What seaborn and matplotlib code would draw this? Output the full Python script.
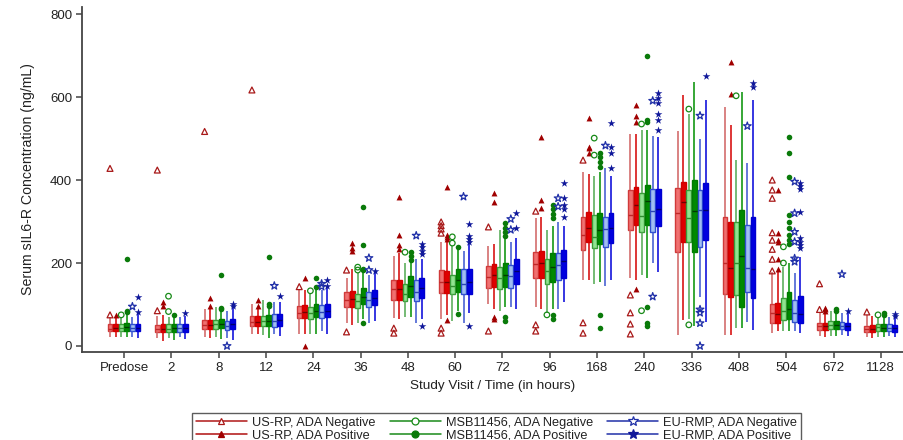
import numpy as np
import pandas as pd
import matplotlib
matplotlib.use("Agg")
import matplotlib.pyplot as plt
from matplotlib.lines import Line2D
import seaborn as sns

# Study visits (hours after dose)
TIMES = ["Predose", "2", "8", "12", "24", "36", "48", "60", "72", "96",
         "168", "240", "336", "408", "504", "672", "1128"]

SERIES = ["US-RP, ADA Negative", "US-RP, ADA Positive",
          "MSB11456, ADA Negative", "MSB11456, ADA Positive",
          "EU-RMP, ADA Negative", "EU-RMP, ADA Positive"]

# Five-number summaries per visit: (whisker low, Q1, median, Q3, whisker high), ng/mL
usrp_neg_box = [(22, 35, 42, 52, 70), (20, 33, 41, 51, 72), (22, 40, 50, 62, 88),
                (28, 47, 58, 72, 100), (30, 67, 80, 97, 135), (55, 93, 112, 130, 165),
                (68, 111, 137, 159, 218), (65, 128, 155, 183, 250), (100, 140, 167, 193, 240),
                (95, 163, 198, 227, 308), (160, 231, 267, 312, 420), (165, 279, 316, 376, 510),
                (27, 227, 320, 381, 519), (27, 125, 200, 310, 577), (32, 55, 79, 101, 179),
                (25, 38, 47, 55, 80), (22, 33, 41, 48, 75)]
usrp_pos_box = [(22, 35, 43, 52, 68), (12, 33, 42, 52, 75), (20, 40, 51, 63, 90),
                (28, 47, 59, 73, 95), (30, 68, 82, 98, 135), (50, 95, 113, 132, 185),
                (65, 112, 138, 160, 225), (75, 128, 155, 180, 250), (90, 142, 170, 197, 245),
                (88, 165, 200, 228, 310), (160, 251, 285, 324, 415), (160, 292, 340, 383, 510),
                (63, 251, 348, 396, 605), (27, 118, 188, 300, 532), (35, 55, 78, 103, 180),
                (22, 38, 47, 56, 80), (20, 33, 42, 50, 72)]
msb_neg_box = [(22, 36, 44, 53, 68), (20, 34, 42, 52, 70), (22, 42, 52, 63, 95),
               (27, 48, 60, 73, 110), (30, 66, 80, 95, 125), (55, 92, 108, 125, 175),
               (70, 108, 125, 150, 200), (60, 125, 145, 170, 240), (85, 138, 165, 190, 280),
               (80, 150, 180, 210, 280), (150, 235, 262, 316, 410), (170, 275, 313, 369, 520),
               (65, 251, 308, 376, 560), (43, 123, 201, 300, 448), (35, 62, 85, 115, 190),
               (25, 40, 50, 60, 85), (22, 36, 45, 52, 70)]
msb_pos_box = [(22, 37, 45, 56, 78), (15, 34, 43, 54, 72), (18, 43, 53, 65, 85),
               (20, 48, 60, 75, 95), (28, 70, 85, 102, 138), (65, 100, 118, 140, 178),
               (70, 118, 145, 168, 205), (85, 130, 160, 185, 235), (95, 142, 172, 200, 260),
               (90, 155, 190, 225, 290), (155, 247, 280, 320, 420), (165, 292, 350, 388, 520),
               (47, 227, 325, 400, 637), (43, 95, 217, 328, 613), (35, 65, 90, 130, 200),
               (25, 40, 50, 60, 82), (22, 35, 44, 53, 70)]
eu_neg_box = [(22, 35, 43, 52, 70), (22, 34, 43, 53, 70), (20, 38, 48, 60, 85),
              (30, 45, 60, 77, 105), (35, 67, 82, 98, 135), (55, 95, 112, 130, 170),
              (55, 108, 130, 158, 210), (55, 125, 150, 185, 230), (95, 140, 168, 195, 250),
              (90, 158, 195, 225, 300), (145, 239, 282, 312, 430), (200, 275, 326, 378, 505),
              (119, 239, 328, 376, 500), (59, 131, 189, 292, 441), (35, 58, 80, 110, 175),
              (27, 40, 48, 57, 80), (25, 37, 44, 52, 70)]
eu_pos_box = [(20, 35, 44, 53, 78), (18, 33, 43, 54, 72), (15, 40, 52, 64, 95),
              (25, 47, 62, 78, 105), (30, 70, 84, 100, 140), (60, 98, 116, 135, 175),
              (65, 115, 140, 165, 210), (80, 125, 155, 185, 245), (90, 150, 180, 210, 260),
              (105, 165, 205, 232, 290), (160, 248, 285, 320, 410), (179, 289, 330, 378, 504),
              (59, 255, 328, 392, 593), (38, 115, 186, 312, 593), (32, 55, 78, 120, 215),
              (25, 38, 47, 56, 80), (22, 34, 43, 51, 70)]

# Outlying observations per visit, ng/mL
usrp_neg_out = [[428, 75], [424, 85], [517], [617], [143], [183, 34], [43, 31],
                [299, 290, 282, 272, 43, 31], [287, 36], [325, 51, 36], [448, 56, 31],
                [123, 80, 53, 29], [], [], [400, 376, 356, 273, 255, 233, 209, 181],
                [150, 88], [82]]
usrp_pos_out = [[75], [107, 97], [115, 97], [112, 97], [164, 0], [248, 236, 229],
                [359, 267, 243, 233], [384, 268, 262, 258, 63], [369, 348, 71, 65],
                [504, 352, 332], [549, 480, 477, 465], [581, 555, 540, 137], [],
                [685, 607], [376, 273, 255, 250, 209, 185], [92, 88, 85], []]
msb_neg_out = [[75], [120, 83], [], [], [133], [190, 183], [226], [263, 248], [],
               [75], [501, 460], [535, 85], [571, 51], [603], [239, 200], [], [75]]
msb_pos_out = [[210, 85, 82], [75], [171, 92, 90], [214, 100, 97], [165, 142],
               [336, 243, 185, 183, 56], [226, 218, 207], [238, 77],
               [296, 285, 275, 265, 70, 60], [340, 330, 318, 308, 75, 65],
               [465, 455, 443, 431, 75, 43], [699, 545, 540, 94, 56, 47], [], [],
               [503, 464, 408, 316, 300, 284, 267, 255, 247], [90, 85], [80, 75]]
eu_neg_out = [[95], [], [0], [145], [150, 143], [212, 183], [266], [360], [306, 280],
              [356, 336], [483], [591, 119], [555, 88, 80, 55, 0], [530],
              [396, 320, 275, 251, 211, 203], [173], []]
eu_pos_out = [[119, 82], [80], [100, 97], [120], [158, 145], [181],
              [245, 238, 230, 222, 47], [294, 265, 258, 250, 47], [321, 285],
              [392, 356, 340, 330, 310], [538, 480, 465, 430],
              [610, 598, 585, 560, 545, 520], [650], [634, 625],
              [392, 386, 378, 322, 260, 251, 243, 235], [85], [78, 72]]

BOXES = dict(zip(SERIES, [usrp_neg_box, usrp_pos_box, msb_neg_box,
                          msb_pos_box, eu_neg_box, eu_pos_box]))
OUTLIERS = dict(zip(SERIES, [usrp_neg_out, usrp_pos_out, msb_neg_out,
                             msb_pos_out, eu_neg_out, eu_pos_out]))

# Visual style per treatment / ADA status
STYLE = {
    "US-RP, ADA Negative": dict(fill="#F07070", edge="#D03A3A", whisker="#D06060",
                                median="#C02828", marker="^", mcolor="#A81818",
                                hollow=True, line="#B01818", s=18),
    "US-RP, ADA Positive": dict(fill="#E00000", edge="#D00000", whisker="#D40000",
                                median="#700000", marker="^", mcolor="#A00000",
                                hollow=False, line="#B01010", s=18),
    "MSB11456, ADA Negative": dict(fill="#90E490", edge="#3A9E3A", whisker="#4FA84F",
                                   median="#2F8F2F", marker="o", mcolor="#178A17",
                                   hollow=True, line="#1A8A1A", s=16),
    "MSB11456, ADA Positive": dict(fill="#008A00", edge="#007A00", whisker="#009000",
                                   median="#003A00", marker="o", mcolor="#0A7A0A",
                                   hollow=False, line="#1A8A1A", s=16),
    "EU-RMP, ADA Negative": dict(fill="#A0BEF2", edge="#3050D0", whisker="#3A55D0",
                                 median="#2A45B5", marker="*", mcolor="#2030A8",
                                 hollow=True, line="#2030A8", s=34),
    "EU-RMP, ADA Positive": dict(fill="#0000E0", edge="#0000D0", whisker="#0000D8",
                                 median="#00006A", marker="*", mcolor="#10189A",
                                 hollow=False, line="#2030A8", s=34),
}

sns.set_style("ticks")
plt.rcParams["font.family"] = ["Liberation Sans", "DejaVu Sans"]

W, H = 904, 440
fig = plt.figure(figsize=(W / 100, H / 100), dpi=100)
ax = fig.add_axes([82 / W, 88 / H, 1 - 82 / W, (433 - 88) / H])

rows = []
for s in SERIES:
    for t, summary in zip(TIMES, BOXES[s]):
        for v in summary:
            rows.append((t, s, v))
box_df = pd.DataFrame(rows, columns=["time", "series", "value"])

palette = {s: STYLE[s]["fill"] for s in SERIES}
WIDTH = 0.71
GAP = 0.14

for s in SERIES:
    st = STYLE[s]
    sns.boxplot(data=box_df[box_df["series"] == s], x="time", y="value",
                hue="series", order=TIMES, hue_order=SERIES, palette=palette,
                saturation=1, dodge=True, width=WIDTH, gap=GAP, whis=(0, 100),
                showfliers=False, showcaps=False, linecolor=st["edge"],
                linewidth=1.0, legend=False, ax=ax,
                medianprops=dict(color=st["median"], linewidth=1.0),
                whiskerprops=dict(color=st["whisker"], linewidth=1.1))

# Outliers at the dodged box positions
slot = WIDTH / len(SERIES)
for i, s in enumerate(SERIES):
    st = STYLE[s]
    offset = -WIDTH / 2 + slot * (i + 0.5)
    xs, ys = [], []
    for j, vals in enumerate(OUTLIERS[s]):
        xs.extend([j + offset] * len(vals))
        ys.extend(vals)
    if st["hollow"]:
        ax.scatter(xs, ys, marker=st["marker"], s=st["s"], facecolors="none",
                   edgecolors=st["mcolor"], linewidths=0.9, zorder=4)
    else:
        ax.scatter(xs, ys, marker=st["marker"], s=st["s"], color=st["mcolor"],
                   linewidths=0, zorder=4)

ax.set_xlim(-0.888, 16.49)
ax.set_ylim(-14.5, 817)
ax.set_yticks([0, 200, 400, 600, 800])
ax.set_xlabel("Study Visit / Time (in hours)", fontsize=9.7, color="#222222")
ax.set_ylabel("Serum sIL6-R Concentration (ng/mL)", fontsize=10.2, color="#222222")
ax.xaxis.set_label_coords(0.5, -0.08)
ax.yaxis.set_label_coords(-0.057, 0.5)

for side in ("top", "right"):
    ax.spines[side].set_visible(False)
for side in ("left", "bottom"):
    ax.spines[side].set_color("#444444")
    ax.spines[side].set_linewidth(1.3)
ax.tick_params(axis="both", direction="out", length=4, width=1.1, color="#444444",
               labelsize=9.5, labelcolor="#222222", pad=3)

handles = []
for s in SERIES:
    st = STYLE[s]
    handles.append(Line2D([0], [0], color=st["line"], lw=1.1, marker=st["marker"],
                          markersize=7 if st["marker"] == "*" else 5,
                          markerfacecolor="white" if st["hollow"] else st["mcolor"],
                          markeredgecolor=st["mcolor"], markeredgewidth=0.9))
leg = fig.legend(handles, SERIES, ncol=3, loc="upper left",
                 bbox_to_anchor=(192 / W, 1 - 413 / H), borderaxespad=0,
                 fontsize=9.2, frameon=True, fancybox=False, handlelength=4.0,
                 handletextpad=0.4, columnspacing=1.1, labelspacing=0.02,
                 borderpad=0.3)
leg.get_frame().set_edgecolor("#333333")
leg.get_frame().set_linewidth(1.0)
for txt in leg.get_texts():
    txt.set_color("#222222")

fig.savefig("out.png", dpi=100)
